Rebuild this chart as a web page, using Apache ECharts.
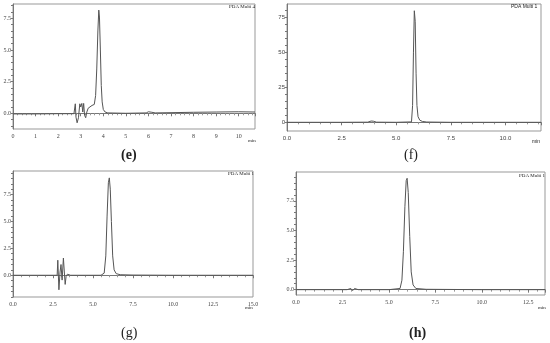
<!DOCTYPE html>
<html>
<head>
<meta charset="utf-8">
<script src="https://cdn.jsdelivr.net/npm/echarts@6/dist/echarts.min.js"></script>
<style>
  html, body { margin: 0; padding: 0; background: #fff; }
  #main { width: 550px; height: 343px; }
</style>
</head>
<body>
<div id="main"></div>
<script>
// (e) trace
const eTime = [0, 1, 2, 2.7, 2.76, 2.79, 2.84, 2.9, 2.96, 3.0, 3.05, 3.09, 3.13, 3.17, 3.22, 3.27, 3.33, 3.4, 3.5, 3.6, 3.66, 3.71, 3.76, 3.8, 3.83, 3.87, 3.91, 3.95, 4.0, 4.08, 4.2, 5.0, 5.9, 6.0, 6.07, 6.15, 6.3, 7.0, 8.0, 9.0, 10.0, 10.72];
const eSignal = [-0.05, -0.05, -0.03, -0.03, 0.75, -0.3, -0.75, -0.35, 0.75, 0.5, 0.78, 0.1, 0.78, -0.15, -0.35, 0.1, 0.4, 0.55, 0.62, 0.7, 1.4, 3.5, 6.5, 8.15, 7.6, 5.0, 2.2, 0.9, 0.3, 0.1, 0.03, 0.0, 0.03, 0.12, 0.2, 0.08, 0.03, 0.05, 0.08, 0.1, 0.12, 0.1];
// (f) trace
const fTime = [0, 2.5, 3.7, 3.85, 3.95, 4.1, 5.0, 5.7, 5.75, 5.79, 5.83, 5.87, 5.91, 5.95, 6.0, 6.08, 6.2, 6.4, 7.5, 10.0, 11.63];
const fSignal = [0, 0, 0.1, 0.9, 0.8, 0.1, 0, 0.3, 12, 50, 79.5, 72, 35, 12, 4, 1.5, 0.6, 0.2, 0, 0, 0];
// (g) trace
const gTime = [0, 2.5, 2.76, 2.8, 2.87, 2.94, 3.0, 3.07, 3.15, 3.26, 3.32, 3.4, 3.5, 3.6, 5.5, 5.7, 5.8, 5.88, 5.96, 6.02, 6.08, 6.15, 6.23, 6.32, 6.45, 6.7, 7.5, 10.0, 15.0];
const gSignal = [0, 0, 0, 1.4, -1.35, 0.3, 1.0, -0.45, 1.6, -0.85, -0.1, 0.1, 0.0, 0.0, 0.0, 0.2, 1.8, 5.5, 8.6, 9.05, 8.0, 5.0, 1.8, 0.5, 0.15, 0.05, 0.02, 0.0, 0.0];
// (h) trace
const hTime = [0, 2.5, 2.75, 2.85, 2.95, 3.05, 3.15, 3.25, 3.35, 5.0, 5.6, 5.7, 5.78, 5.86, 5.93, 5.98, 6.04, 6.12, 6.2, 6.3, 6.45, 7.0, 10.0, 13.4];
const hSignal = [0, 0, 0, -0.1, 0.1, -0.08, 0.1, -0.05, 0, 0, 0.1, 0.8, 3.2, 7.0, 9.2, 9.4, 8.2, 4.5, 1.5, 0.4, 0.1, 0.03, 0, 0];

// axis tick values
const eYLabels = [0, 2.5, 5, 7.5];
const eYTicks = [-1, -0.5, 0, 0.5, 1, 1.5, 2, 2.5, 3, 3.5, 4, 4.5, 5, 5.5, 6, 6.5, 7, 7.5, 8, 8.5];
const fYLabels = [0, 25, 50, 75];
const fYTicks = [0, 5, 10, 15, 20, 25, 30, 35, 40, 45, 50, 55, 60, 65, 70, 75, 80];
const gYLabels = [0, 2.5, 5, 7.5];
const gYTicks = [-2, -1.5, -1, -0.5, 0, 0.5, 1, 1.5, 2, 2.5, 3, 3.5, 4, 4.5, 5, 5.5, 6, 6.5, 7, 7.5, 8, 8.5, 9, 9.5];
const hYLabels = [0, 2.5, 5, 7.5];
const hYTicks = [0, 0.5, 1, 1.5, 2, 2.5, 3, 3.5, 4, 4.5, 5, 5.5, 6, 6.5, 7, 7.5, 8, 8.5, 9, 9.5];

const serif = 'Liberation Serif';
const sans = 'Liberation Sans';

let panels = [
  { grid: { left: 13, top: 4, width: 242, height: 125 }, x: [0, 10.72, 1], showMax: false, y: [-1.24, 8.63], yLabels: eYLabels, yTicks: eYTicks, fmt: v => v.toFixed(1), xfmt: v => String(v), font: serif, t: eTime, v: eSignal },
  { grid: { left: 287, top: 4, width: 254, height: 127 }, x: [0, 11.63, 2.5], showMax: false, y: [-6.2, 84.3], yLabels: fYLabels, yTicks: fYTicks, fmt: v => String(v), xfmt: v => v.toFixed(1), font: sans, t: fTime, v: fSignal },
  { grid: { left: 13, top: 171, width: 240, height: 126 }, x: [0, 15, 2.5], showMax: true, y: [-2.02, 9.69], yLabels: gYLabels, yTicks: gYTicks, fmt: v => v.toFixed(1), xfmt: v => v.toFixed(1), font: serif, t: gTime, v: gSignal },
  { grid: { left: 296, top: 172, width: 249, height: 123 }, x: [0, 13.4, 2.5], showMax: false, y: [-0.45, 9.93], yLabels: hYLabels, yTicks: hYTicks, fmt: v => v.toFixed(1), xfmt: v => v.toFixed(1), font: serif, t: hTime, v: hSignal }
];

let grids = [], xAxes = [], yAxes = [], series = [];
panels.forEach((p, i) => {
  grids.push(Object.assign({ show: true, borderColor: '#999', borderWidth: 1, backgroundColor: '#fff', containLabel: false, outerBoundsMode: 'none' }, p.grid));
  xAxes.push({
    type: 'value', gridIndex: i, min: p.x[0], max: p.x[1], interval: p.x[2],
    axisLine: { lineStyle: { color: '#777', width: 1 } },
    axisTick: { show: true, length: 3, lineStyle: { color: '#777' } },
    minorTick: { show: true, splitNumber: 5, length: 2, lineStyle: { color: '#999' } },
    splitLine: { show: false },
    axisLabel: { fontSize: 6, color: '#444', margin: 4, fontFamily: p.font, formatter: p.xfmt, showMaxLabel: p.showMax }
  });
  yAxes.push({
    type: 'value', gridIndex: i, min: p.y[0], max: p.y[1],
    axisLine: { show: true, lineStyle: { color: '#777', width: 1 } },
    axisTick: { show: true, length: 2, customValues: p.yTicks, lineStyle: { color: '#777' } },
    splitLine: { show: false },
    axisLabel: { fontSize: 6, color: '#444', margin: 2, fontFamily: p.font, customValues: p.yLabels, formatter: p.fmt }
  });
  series.push({
    type: 'line', xAxisIndex: i, yAxisIndex: i, showSymbol: false, symbol: 'none',
    lineStyle: { color: '#555', width: 1 },
    data: p.t.map((t, k) => [t, p.v[k]])
  });
});

function txt(left, top, text, size, font, weight) {
  return { type: 'text', left: left, top: top, style: { text: text, fontSize: size, fontFamily: font, fontWeight: weight || 'normal', fill: '#222' } };
}

let myChart = echarts.init(document.getElementById('main'), null, { renderer: 'canvas' });
myChart.setOption({
  animation: false,
  backgroundColor: '#fff',
  grid: grids,
  xAxis: xAxes,
  yAxis: yAxes,
  series: series,
  graphic: [
    txt(229, 4, 'PDA Multi 4', 5, serif),
    txt(511, 4, 'PDA Multi 1', 5, sans),
    txt(228, 171, 'PDA Multi 1', 5, serif),
    txt(519, 173, 'PDA Multi 1', 5, serif),
    txt(248, 138, 'min', 5, serif),
    txt(532, 139, 'min', 5, sans),
    txt(245, 305, 'min', 5, serif),
    txt(538, 305, 'min', 5, serif),
    txt(121, 148, '(e)', 14, serif, 'bold'),
    txt(404, 148, '(f)', 14, serif),
    txt(121, 326, '(g)', 14, serif),
    txt(409, 326, '(h)', 14, serif, 'bold')
  ]
});
</script>
</body>
</html>
